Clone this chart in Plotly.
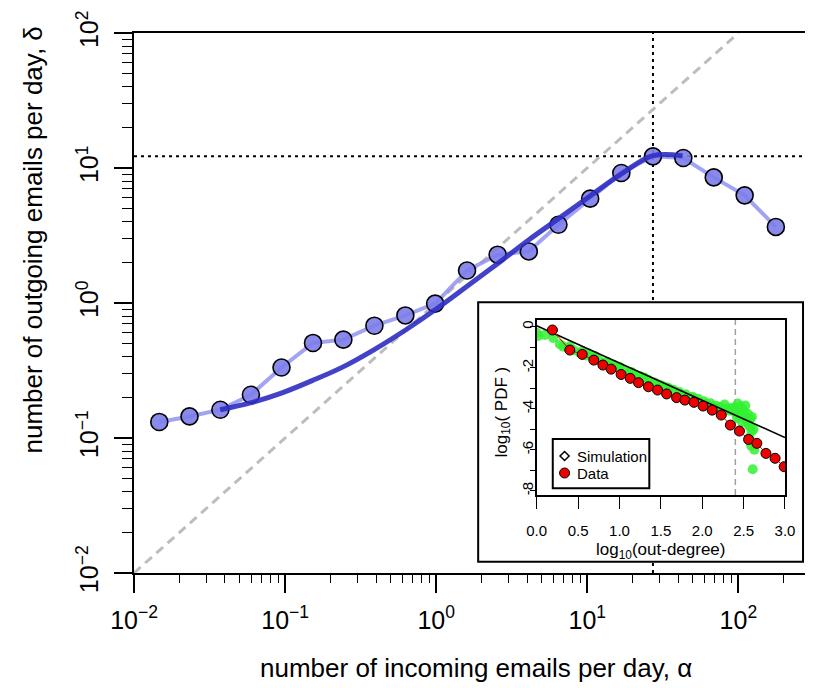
import plotly.graph_objects as go

# ---------------- data ----------------
# main panel: binned emails in (alpha) vs out (delta)
alpha_bins = [0.0147, 0.0233, 0.0373, 0.0594, 0.0947, 0.153, 0.243, 0.390, 0.625, 0.984,
              1.60, 2.55, 4.10, 6.44, 10.45, 16.8, 27.2, 43.2, 68.7, 110, 177]
delta_bins = [0.1315, 0.1445, 0.162, 0.209, 0.333, 0.506, 0.535, 0.679, 0.809, 0.989,
              1.74, 2.28, 2.41, 3.80, 5.93, 9.18, 12.2, 11.86, 8.52, 6.27, 3.66]

# model curve
model_alpha = [0.0372, 0.0589, 0.0955, 0.151, 0.240, 0.389, 0.631, 1.0, 1.585, 2.57,
               4.07, 6.46, 10.5, 17.0, 26.9, 42.7]
model_delta = [0.162, 0.182, 0.216, 0.266, 0.335, 0.452, 0.634, 0.902, 1.318, 1.972,
               2.917, 4.217, 6.237, 9.12, 12.3, 12.3]

# identity reference line alpha = delta
identity_vals = [0.01, 100]

# peak position (dotted guide lines)
peak_alpha = 27.2
peak_delta = 12.2

# inset: out-degree distribution
data_logk = [0.19, 0.40, 0.55, 0.69, 0.80, 0.90, 1.02, 1.13, 1.23, 1.35, 1.46, 1.57, 1.69,
             1.79, 1.90, 2.01, 2.12, 2.23, 2.34, 2.45, 2.56, 2.66, 2.77, 2.88, 2.99]
data_logpdf = [-0.16, -1.14, -1.35, -1.63, -1.87, -2.07, -2.33, -2.52, -2.73, -2.93, -3.09,
               -3.28, -3.46, -3.58, -3.69, -3.87, -4.07, -4.31, -4.80, -5.09, -5.50, -5.69,
               -6.18, -6.42, -6.83]

sim_logk = [0.00, 0.02, 0.28, 0.32, 0.38, 0.45, 0.52, 0.60, 0.68, 0.75, 0.82, 0.90, 0.98,
            1.05, 1.12, 1.20, 1.28, 1.35, 1.42, 1.50, 1.58, 1.65, 1.72, 1.80, 1.88, 1.95,
            2.02, 2.10, 2.17, 2.22, 2.27, 2.30, 2.33, 2.36, 2.40, 2.43, 2.46, 2.49, 2.52,
            2.55, 2.58, 2.52, 2.56, 2.60, 2.57, 2.62, 2.59, 2.63, 2.61,
            0.55, 0.85, 1.15, 1.45, 1.75, 2.05, 2.20, 0.70, 1.00, 1.30, 1.60, 1.90, 2.12,
            2.38, 2.45, 2.50, 2.54, 0.10, 0.20, 0.40, 0.62, 0.93, 1.25, 1.55, 1.85, 2.15,
            2.42, 2.48, 2.58, 2.60]
sim_logpdf = [-0.30, -0.45, -0.85, -0.97, -1.05, -1.15, -1.27, -1.40, -1.52, -1.63, -1.75,
              -1.88, -2.00, -2.12, -2.24, -2.37, -2.49, -2.60, -2.72, -2.85, -2.97, -3.07,
              -3.19, -3.30, -3.42, -3.52, -3.64, -3.74, -3.86, -3.92, -3.80, -4.00, -4.10,
              -3.95, -4.20, -3.75, -3.90, -4.05, -3.85, -4.25, -4.50, -4.45, -4.80, -5.10,
              -5.40, -5.00, -5.80, -6.00, -6.95,
              -1.20, -1.72, -2.22, -2.78, -3.30, -3.75, -4.05, -1.42, -1.95, -2.48, -3.02,
              -3.50, -3.90, -4.00, -4.30, -4.15, -4.60, -0.40, -0.55, -0.95, -1.30, -1.85,
              -2.42, -2.95, -3.45, -3.95, -4.45, -4.65, -4.90, -4.40]

fit_logk = [0.0, 3.0]
fit_logpdf = [0.05, -5.41]

cutoff_logk = 2.4

x_tickvals = [0.01, 0.1, 1, 10, 100]
x_ticktext = ["10<sup>\u22122</sup>", "10<sup>\u22121</sup>", "10<sup>0</sup>",
              "10<sup>1</sup>", "10<sup>2</sup>"]
y_tickvals = x_tickvals
y_ticktext = x_ticktext
minor_vals = [k * 10.0 ** e for e in range(-2, 3) for k in range(2, 10)]

inset_xticks = [0, 0.5, 1.0, 1.5, 2.0, 2.5, 3.0]
inset_xtext = ["0.0", "0.5", "1.0", "1.5", "2.0", "2.5", "3.0"]
inset_yticks = [0, -1, -2, -3, -4, -5, -6, -7, -8]
inset_ytext = ["0", "", "-2", "", "-4", "", "-6", "", "-8"]

# ---------------- layout constants ----------------
W, H = 815, 688
ML, MR, MT, MB = 134, 0, 33, 115
PW, PH = W - ML - MR, H - MT - MB


def px(xp):
    return (xp - ML) / PW


def py(yp):
    return (H - MB - yp) / PH


FONT = "Liberation Sans, Arial, Helvetica, sans-serif"

fig = go.Figure()

# main traces
fig.add_trace(go.Scatter(x=identity_vals, y=identity_vals, mode="lines",
                         line=dict(color="#BDBDBD", width=3, dash="9px,6px"),
                         showlegend=False, hoverinfo="skip"))
fig.add_trace(go.Scatter(x=alpha_bins, y=delta_bins, mode="lines+markers",
                         line=dict(color="rgba(140,140,240,0.8)", width=4),
                         marker=dict(size=17, color="rgba(125,125,235,0.9)",
                                     line=dict(color="black", width=1.6)),
                         showlegend=False))
fig.add_trace(go.Scatter(x=model_alpha, y=model_delta, mode="lines",
                         line=dict(color="rgba(45,45,195,0.9)", width=5, shape="spline"),
                         showlegend=False))

# inset traces
fig.add_trace(go.Scatter(x=[cutoff_logk, cutoff_logk], y=[-8.21, 0.33], mode="lines",
                         xaxis="x2", yaxis="y2",
                         line=dict(color="#A0A0A0", width=1.5, dash="6px,4px"),
                         showlegend=False))
fig.add_trace(go.Scatter(x=sim_logk, y=sim_logpdf, mode="markers", xaxis="x2", yaxis="y2",
                         marker=dict(size=10, color="rgba(50,240,50,0.85)"),
                         showlegend=False))
fig.add_trace(go.Scatter(x=fit_logk, y=fit_logpdf, mode="lines", xaxis="x2", yaxis="y2",
                         line=dict(color="black", width=1.6), showlegend=False))
fig.add_trace(go.Scatter(x=data_logk, y=data_logpdf, mode="lines+markers",
                         xaxis="x2", yaxis="y2",
                         line=dict(color="#E00000", width=1),
                         marker=dict(size=10, color="#EE0000", line=dict(color="black", width=1)),
                         showlegend=False))

# inset legend markers (in inset axis units)
LEG_MX = (571 - 542.7) / 84.0
LEG_MY = [-(456 - 326.7) / 20.5, -(473 - 326.7) / 20.5]
fig.add_trace(go.Scatter(x=[LEG_MX], y=[LEG_MY[0]], mode="markers", xaxis="x2", yaxis="y2",
                         marker=dict(symbol="diamond-open", size=7, color="black",
                                     line=dict(width=1.5)),
                         showlegend=False, hoverinfo="skip"))
fig.add_trace(go.Scatter(x=[LEG_MX], y=[LEG_MY[1]], mode="markers", xaxis="x2", yaxis="y2",
                         marker=dict(size=10, color="#EE0000", line=dict(color="black", width=1)),
                         showlegend=False, hoverinfo="skip"))

shapes = [
    # dotted guides (drawn in the lower layer so the inset covers them)
    dict(type="line", xref="x", yref="paper", x0=peak_alpha, x1=peak_alpha,
         y0=0, y1=1, layer="below", line=dict(color="black", width=2, dash="3px,4px")),
    dict(type="line", xref="paper", yref="y", x0=0, x1=1, y0=peak_delta,
         y1=peak_delta, layer="below", line=dict(color="black", width=2, dash="3px,4px")),
    # inset frame
    dict(type="rect", xref="paper", yref="paper", x0=px(483.3), x1=px(813), y0=py(561.7), y1=py(302.3),
         layer="below", fillcolor="white", line=dict(color="black", width=2)),
    # inset legend box
    dict(type="rect", xref="paper", yref="paper", x0=px(559), x1=px(657), y0=py(488.3), y1=py(439),
         layer="below", fillcolor="white", line=dict(color="black", width=2)),
]

annotations = [
    dict(text="number of incoming emails per day, \u03b1", xref="paper", yref="paper",
         x=px(481), y=py(668), showarrow=False, font=dict(size=26, family=FONT, color="black"),
         xanchor="center", yanchor="middle"),
    dict(text="number of outgoing emails per day, \u03b4", xref="paper", yref="paper",
         x=px(31), y=py(240), showarrow=False, textangle=-90,
         font=dict(size=26, family=FONT, color="black"), xanchor="center", yanchor="middle"),
    dict(text="log<sub>10</sub>(out-degree)", xref="paper", yref="paper",
         x=px(668), y=py(551), showarrow=False, font=dict(size=17, family=FONT, color="black"),
         xanchor="center", yanchor="middle"),
    dict(text="log<sub>10</sub>( PDF )", xref="paper", yref="paper",
         x=px(508), y=py(412), showarrow=False, textangle=-90,
         font=dict(size=17, family=FONT, color="black"), xanchor="center", yanchor="middle"),
    dict(text="Simulation", xref="paper", yref="paper", x=px(582), y=py(456), showarrow=False,
         font=dict(size=15, family=FONT, color="black"), xanchor="left", yanchor="middle"),
    dict(text="Data", xref="paper", yref="paper", x=px(582), y=py(473), showarrow=False,
         font=dict(size=15, family=FONT, color="black"), xanchor="left", yanchor="middle"),
]

inset_x0, inset_x1 = px(542.7), px(794.7)
inset_y0, inset_y1 = py(495), py(320)

fig.update_layout(
    width=W, height=H,
    margin=dict(l=ML, r=MR, t=MT, b=MB, pad=0),
    paper_bgcolor="white", plot_bgcolor="rgba(0,0,0,0)",
    font=dict(family=FONT, color="black"),
    showlegend=False,
    shapes=shapes,
    annotations=annotations,
    xaxis=dict(type="log", range=[-2, -2 + PW / 153.35], domain=[0, 1],
               showline=True, linecolor="black", linewidth=1.8, mirror=True,
               showgrid=False, zeroline=False,
               ticks="outside", ticklen=18, tickwidth=1.8, tickcolor="black",
               tickmode="array", tickvals=x_tickvals, ticktext=x_ticktext,
               tickfont=dict(size=25, family=FONT, color="black"),
               ticklabelstandoff=6,
               minor=dict(tickmode="array", tickvals=minor_vals, ticks="outside", ticklen=8,
                          tickwidth=1.2, tickcolor="black", showgrid=False)),
    yaxis=dict(type="log", range=[-2, 2], domain=[0, 1],
               showline=True, linecolor="black", linewidth=1.8, mirror=False,
               showgrid=False, zeroline=False,
               ticks="outside", ticklen=18, tickwidth=1.8, tickcolor="black",
               tickmode="array", tickvals=y_tickvals, ticktext=y_ticktext, tickangle=-90,
               tickfont=dict(size=25, family=FONT, color="black"),
               ticklabelstandoff=6,
               minor=dict(tickmode="array", tickvals=minor_vals, ticks="outside", ticklen=10,
                          tickwidth=1.2, tickcolor="black", showgrid=False)),
    xaxis2=dict(range=[0, 3], domain=[inset_x0, inset_x1], anchor="y2",
                showline=True, linecolor="black", linewidth=1.5, mirror=True,
                showgrid=False, zeroline=False,
                ticks="outside", ticklen=12, tickwidth=1.2, tickcolor="black",
                tickmode="array", tickvals=inset_xticks, ticktext=inset_xtext,
                tickfont=dict(size=15, family=FONT, color="black"), ticklabelstandoff=9),
    yaxis2=dict(range=[-8.21, 0.327], domain=[inset_y0, inset_y1], anchor="x2",
                showline=True, linecolor="black", linewidth=1.5, mirror=True,
                showgrid=False, zeroline=False,
                ticks="outside", ticklen=5, tickwidth=1.2, tickcolor="black",
                tickmode="array", tickvals=inset_yticks, ticktext=inset_ytext, tickangle=-90,
                tickfont=dict(size=15, family=FONT, color="black"), ticklabelstandoff=-9),
)

fig.write_html("out.html")
